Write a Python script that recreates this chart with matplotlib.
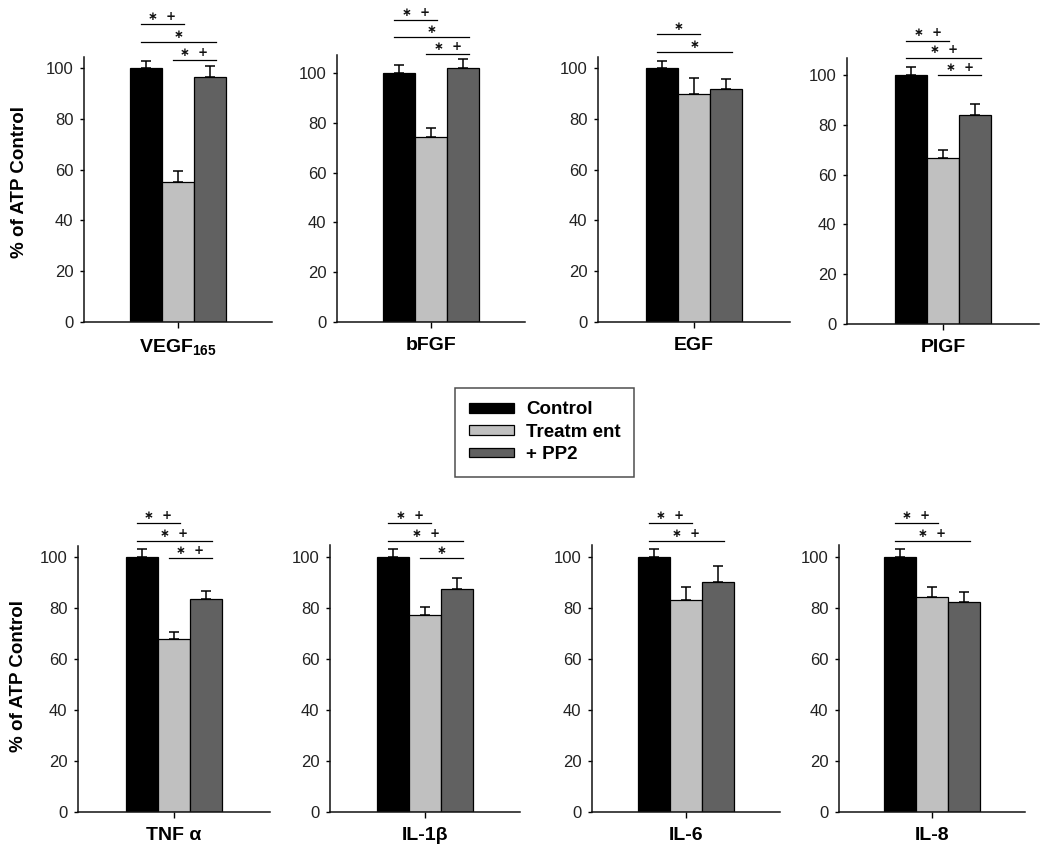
import matplotlib
matplotlib.use('Agg')
import matplotlib.pyplot as plt
from matplotlib.patches import Patch

plt.rcParams['font.family'] = ['Liberation Sans', 'DejaVu Sans']
plt.rcParams['mathtext.fontset'] = 'custom'
plt.rcParams['mathtext.rm'] = 'Liberation Sans'
plt.rcParams['mathtext.bf'] = 'Liberation Sans:bold'

# ---------------- data ----------------
groups = ['Control', 'Treatm ent', '+ PP2']
panel_names = [r'VEGF$_{\mathbf{165}}$', 'bFGF', 'EGF', 'PIGF',
               'TNF α', 'IL-1β', 'IL-6', 'IL-8']
control = [100, 100, 100, 100, 100, 100, 100, 100]
control_err = [2.8, 3.4, 2.9, 3.1, 3.0, 3.0, 3.0, 3.0]
treatment = [55.2, 74.4, 89.8, 66.8, 68.0, 77.3, 83.1, 84.2]
treatment_err = [4.4, 3.4, 6.4, 3.1, 2.7, 3.2, 5.3, 4.2]
pp2 = [96.6, 101.9, 91.6, 83.9, 83.5, 87.3, 90.3, 82.5]
pp2_err = [4.2, 3.6, 4.1, 4.5, 3.3, 4.6, 6.2, 3.8]
yticks = [0, 20, 40, 60, 80, 100]
ylabel = '% of ATP Control'

# significance brackets: (bar i, bar j, label, height)
sigs = [
    [(0, 1, '∗  +', 117.3), (0, 2, '∗', 110.2), (1, 2, '∗  +', 103.1)],
    [(0, 1, '∗  +', 121.3), (0, 2, '∗', 114.6), (1, 2, '∗  +', 107.6)],
    [(0, 1, '∗', 113.4), (0, 2, '∗', 106.4)],
    [(0, 1, '∗  +', 113.8), (0, 2, '∗  +', 107.0), (1, 2, '∗  +', 100.0)],
    [(0, 1, '∗  +', 113.2), (0, 2, '∗  +', 106.3), (1, 2, '∗  +', 99.5)],
    [(0, 1, '∗  +', 113.2), (0, 2, '∗  +', 106.3), (1, 2, '∗', 99.5)],
    [(0, 1, '∗  +', 113.2), (0, 2, '∗  +', 106.3)],
    [(0, 1, '∗  +', 113.2), (0, 2, '∗  +', 106.3)],
]

# ---------------- layout / style ----------------
colors = ['#000000', '#c0c0c0', '#616161']
W, H = 1050, 852
# pixel boxes: left, right, bottom, top, y-pixel of value 100
boxes = [
    (84, 272, 322, 57, 68),
    (337, 525, 322, 55, 73),
    (598, 790, 322, 57, 68),
    (847, 1039, 324, 58, 75),
    (78, 270, 812, 546, 557),
    (330, 520, 812, 545, 557),
    (592, 780, 812, 545, 557),
    (839, 1025, 812, 545, 557),
]

fig = plt.figure(figsize=(W / 100, H / 100), dpi=100)

for k in range(8):
    l, r, b, t, y100 = boxes[k]
    ax = fig.add_axes([l / W, 1 - b / H, (r - l) / W, (b - t) / H])
    ytop = (b - t) / (b - y100) * 100
    ax.set_ylim(0, ytop)
    ax.set_xlim(-1, 1)
    pxu = (r - l) / 2.0
    bw = 32.0 / pxu
    xs = [-bw, 0, bw]
    vals = [control[k], treatment[k], pp2[k]]
    errs = [control_err[k], treatment_err[k], pp2_err[k]]
    ax.bar(xs, vals, width=bw, color=colors, edgecolor='black',
           linewidth=0.9, zorder=2)
    ax.errorbar(xs, vals, yerr=[[0, 0, 0], errs], fmt='none', ecolor='black',
                elinewidth=1.1, capsize=3.5, capthick=1.1, zorder=3)

    for (i, j, lab, y) in sigs[k]:
        x0 = xs[i] - 5.0 / pxu
        x1 = xs[j] + 6.0 / pxu
        ax.plot([x0, x1], [y, y], color='black', lw=0.9, clip_on=False)
        ax.annotate(lab, xy=((x0 + x1) / 2, y), xytext=(0, 5.5),
                    textcoords='offset points', ha='center', va='center',
                    fontsize=8.5, fontweight='bold', family='DejaVu Sans',
                    annotation_clip=False, color='#111111')

    for s in ['top', 'right']:
        ax.spines[s].set_visible(False)
    for s in ['left', 'bottom']:
        ax.spines[s].set_linewidth(1.1)
        ax.spines[s].set_color('#111111')

    ax.set_yticks(yticks)
    ax.tick_params(axis='y', length=3, width=1, pad=4.5, labelsize=12,
                   labelcolor='#222222')
    ax.set_xticks([0])
    ax.set_xticklabels([panel_names[k]], fontsize=14, fontweight='bold')
    ax.tick_params(axis='x', length=4, width=1, pad=7)

    if k == 0:
        ax.set_ylabel(ylabel, fontsize=13.5, fontweight='bold')
        ax.yaxis.set_label_coords((28 - l) / (r - l), 0.53)
    if k == 4:
        ax.set_ylabel(ylabel, fontsize=13.5, fontweight='bold')
        ax.yaxis.set_label_coords((27 - l) / (r - l), 0.51)

handles = [Patch(facecolor=c, edgecolor='black', linewidth=0.9) for c in colors]
leg = fig.legend(handles, groups, loc='upper left',
                 bbox_to_anchor=(455 / W, 1 - 388 / H), borderaxespad=0,
                 prop={'size': 13.5, 'weight': 'bold'}, handlelength=2.45,
                 handleheight=0.4, handletextpad=0.62, borderpad=0.72,
                 labelspacing=0.28, fancybox=False, frameon=True)
leg.get_frame().set_edgecolor('#222222')
leg.get_frame().set_linewidth(1.1)

fig.savefig('out.png', dpi=100)
